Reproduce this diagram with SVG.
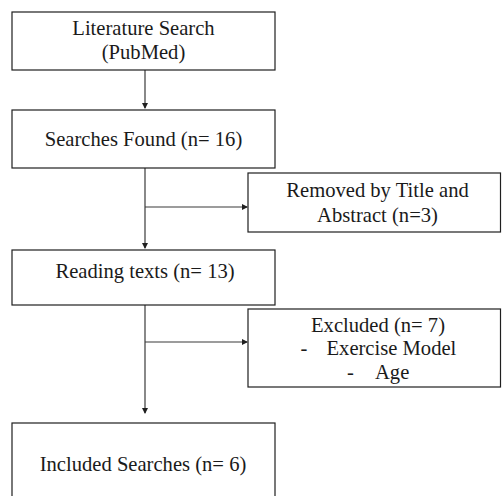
<svg xmlns="http://www.w3.org/2000/svg" width="502" height="496" viewBox="0 0 502 496">
<defs>
<style>
.box{fill:#ffffff;stroke:#1f1f1f;stroke-width:1.2}
.t{font-family:"Liberation Serif","Times New Roman",serif;font-size:20.6px;fill:#1a1a1a;text-anchor:middle}
.ts{font-family:"Liberation Serif","Times New Roman",serif;font-size:20.6px;fill:#1a1a1a}
.ln{fill:none;stroke:#3a3a3a;stroke-width:1.2}
</style>
<marker id="ah" markerWidth="6" markerHeight="6" refX="5" refY="3" orient="auto" markerUnits="userSpaceOnUse">
<path d="M0,0 L6,3 L0,6 Z" fill="#1f1f1f"/>
</marker>
</defs>
<rect width="502" height="496" fill="#ffffff"/>
<g id="connectors">
<line class="ln" x1="145" y1="70" x2="145" y2="108" marker-end="url(#ah)"/>
<line class="ln" x1="145" y1="168" x2="145" y2="248" marker-end="url(#ah)"/>
<line class="ln" x1="145" y1="207" x2="247" y2="207" marker-end="url(#ah)"/>
<line class="ln" x1="145" y1="305" x2="145" y2="413" marker-end="url(#ah)"/>
<line class="ln" x1="145" y1="342" x2="247" y2="342" marker-end="url(#ah)"/>
</g>
<g id="literature-search">
<rect class="box" x="12" y="12" width="263" height="58"/>
<text class="t" x="143.5" y="35">Literature Search</text>
<text class="t" x="143.5" y="58.5">(PubMed)</text>
</g>
<g id="searches-found">
<rect class="box" x="12" y="110" width="263" height="58"/>
<text class="t" x="143.5" y="145.5">Searches Found (n= 16)</text>
</g>
<g id="removed">
<rect class="box" x="248" y="173" width="252.5" height="59"/>
<text class="t" x="377.5" y="196.5">Removed by Title and</text>
<text class="t" x="377.5" y="221.5">Abstract (n=3)</text>
</g>
<g id="reading-texts">
<rect class="box" x="12" y="250" width="263" height="55"/>
<text class="t" x="145" y="278">Reading texts (n= 13)</text>
</g>
<g id="excluded">
<rect class="box" x="248" y="309" width="252.5" height="78"/>
<text class="t" x="378" y="331.5">Excluded (n= 7)</text>
<text class="ts" x="300.5" y="355">-</text>
<text class="ts" x="326.5" y="355">Exercise Model</text>
<text class="ts" x="347" y="378.5">-</text>
<text class="ts" x="375" y="378.5">Age</text>
</g>
<g id="included">
<rect class="box" x="12" y="423" width="263" height="80"/>
<text class="t" x="143" y="471">Included Searches (n= 6)</text>
</g>
</svg>
